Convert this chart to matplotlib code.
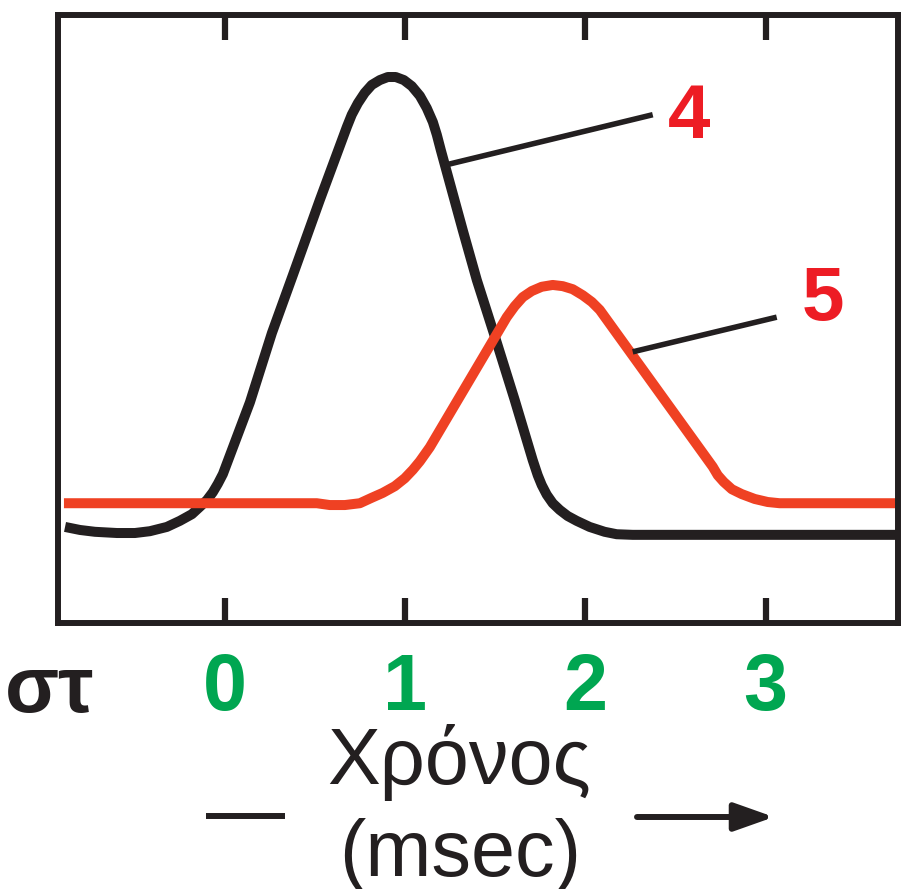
import matplotlib
matplotlib.use("Agg")
import matplotlib.pyplot as plt
from matplotlib.lines import Line2D
from matplotlib.patches import ArrowStyle

plt.rcParams['font.family'] = ['Liberation Sans', 'DejaVu Sans']

# ---- data (time in msec, amplitude in arbitrary units 0-100) ----
t_curve4 = [-0.887, -0.804, -0.721, -0.599, -0.499, -0.416, -0.322, -0.250, -0.183, -0.139,
            -0.100, -0.067, -0.039, -0.011, 0.139, 0.261, 0.377, 0.527, 0.677, 0.704,
            0.738, 0.776, 0.815, 0.860, 0.904, 0.948, 0.993, 1.037, 1.082, 1.120,
            1.154, 1.176, 1.198, 1.320, 1.398, 1.509, 1.608, 1.708, 1.736, 1.758,
            1.786, 1.819, 1.858, 1.902, 1.952, 2.024, 2.107, 2.174, 2.263, 3.733]
v_curve4 = [15.8, 15.3, 15.0, 14.8, 14.8, 15.1, 15.8, 16.8, 17.9, 19.1,
            20.2, 21.5, 22.9, 24.5, 36.3, 47.7, 57.2, 69.6, 81.6, 83.6,
            85.5, 87.2, 88.5, 89.3, 89.8, 89.8, 89.3, 88.3, 86.7, 84.7,
            82.4, 80.3, 77.8, 64.6, 56.4, 46.1, 36.7, 26.8, 24.3, 22.7,
            21.1, 19.7, 18.6, 17.6, 16.8, 15.8, 15.0, 14.6, 14.5, 14.5]

t_curve5 = [-0.893, 0.510, 0.582, 0.666, 0.749, 0.815, 0.876, 0.943, 0.998, 1.043,
            1.082, 1.137, 1.564, 1.608, 1.653, 1.703, 1.758, 1.819, 1.875, 1.930,
            1.986, 2.036, 2.080, 2.707, 2.735, 2.768, 2.813, 2.868, 2.940, 3.012,
            3.078, 3.733]
v_curve5 = [19.7, 19.7, 19.4, 19.4, 19.7, 20.6, 21.4, 22.5, 23.8, 25.2,
            26.6, 28.9, 50.3, 52.1, 53.6, 54.6, 55.3, 55.6, 55.4, 54.9,
            53.9, 52.8, 51.5, 25.7, 24.3, 23.2, 22.0, 21.2, 20.4, 19.9,
            19.7, 19.7]

tick_values = [0, 1, 2, 3]
tick_labels = ['0', '1', '2', '3']
curve_labels = ['4', '5']

BLACK = '#231F20'
RED_LINE = '#EF4123'
RED_TEXT = '#ED1C24'
GREEN = '#00A651'

W, H = 903, 889
fig = plt.figure(figsize=(W / 100, H / 100), dpi=100)
ax = fig.add_axes([58 / W, 1 - 623 / H, (898 - 58) / W, (623 - 15) / H])

ax.plot(t_curve4, v_curve4, color=BLACK, lw=7.2, solid_capstyle='butt', solid_joinstyle='round')
ax.plot(t_curve5, v_curve5, color=RED_LINE, lw=7.2, solid_capstyle='butt', solid_joinstyle='round')

ax.set_xlim(-0.926, 3.735)
ax.set_ylim(0, 100)

for s in ax.spines.values():
    s.set_linewidth(4.3)
    s.set_color(BLACK)

ax.set_yticks([])
ax.set_xticks(tick_values)
ax.set_xticklabels(tick_labels)
ax.tick_params(axis='x', direction='in', length=18, width=4.5, color=BLACK,
               top=True, bottom=True, labelbottom=True, labeltop=False,
               pad=21, labelsize=57, labelcolor=GREEN)
for lab in ax.get_xticklabels():
    lab.set_fontweight('bold')

# leader lines and curve labels
ax.plot([1.220, 2.374], [75.3, 83.6], color=BLACK, lw=4.0, solid_capstyle='butt')
ax.plot([2.263, 3.062], [44.6, 50.3], color=BLACK, lw=4.0, solid_capstyle='butt')
ax.text(2.574, 83.0, curve_labels[0], color=RED_TEXT, fontsize=55, fontweight='bold',
        ha='center', va='center')
ax.text(3.317, 53.1, curve_labels[1], color=RED_TEXT, fontsize=55, fontweight='bold',
        ha='center', va='center')

# axis row label and title
fig.text(50 / W, 1 - 712 / H, 'στ', color=BLACK, fontsize=57, fontweight='bold',
         ha='center', va='baseline')
fig.text(459 / W, 1 - 784 / H, 'Χρόνος', color=BLACK, fontsize=57,
         ha='center', va='baseline')
fig.text(460 / W, 1 - 876 / H, '(msec)', color=BLACK, fontsize=57,
         ha='center', va='baseline')

# dash and arrow
fig.add_artist(Line2D([206 / W, 285 / W], [1 - 816 / H, 1 - 816 / H], color=BLACK,
                      lw=4.3, solid_capstyle='butt', transform=fig.transFigure))
ax.annotate('', xy=(774, H - 817), xytext=(637, H - 817), xycoords='figure pixels',
            textcoords='figure pixels',
            arrowprops=dict(arrowstyle=ArrowStyle('-|>', head_length=24, head_width=8.5),
                            mutation_scale=1, lw=4.3, color=BLACK,
                            shrinkA=0, shrinkB=0))

fig.savefig('out.png', dpi=100, facecolor='white')
